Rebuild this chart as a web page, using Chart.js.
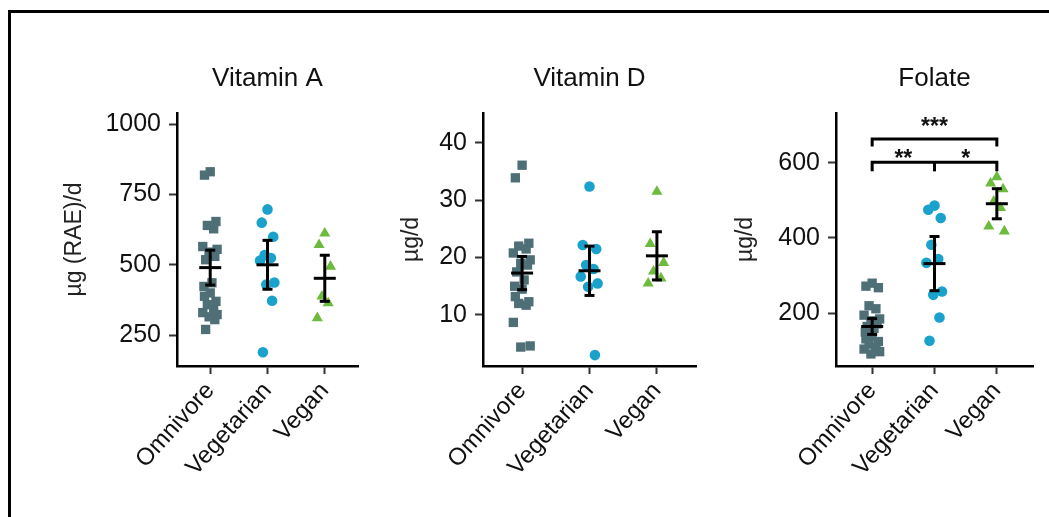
<!DOCTYPE html>
<html><head><meta charset="utf-8">
<script src="https://cdn.jsdelivr.net/npm/chart.js@4.4.1/dist/chart.umd.min.js"></script>
<style>
html,body{margin:0;padding:0;background:#fff;width:1049px;height:517px;overflow:hidden;position:relative;}
#frame{position:absolute;left:8px;top:10px;width:1100px;height:600px;border-top:3px solid #000;border-left:3px solid #000;}
canvas{position:absolute;top:0;}
</style></head><body>
<div id="frame"></div>
<canvas id="cA" width="380" height="517" style="left:0px;width:380px;height:517px"></canvas>
<canvas id="cB" width="330" height="517" style="left:380px;width:330px;height:517px"></canvas>
<canvas id="cC" width="339" height="517" style="left:710px;width:339px;height:517px"></canvas>
<script>
// ---------- data ----------
const groups = ['Omnivore', 'Vegetarian', 'Vegan'];
const titles = ['Vitamin A', 'Vitamin D', 'Folate'];
const yTitles = ['µg (RAE)/d', 'µg/d', 'µg/d'];

const vitA_omnivore = [831, 819, 654, 640, 628, 565, 555, 545, 530, 518, 436, 423, 400, 388, 370, 358, 340, 330, 323, 315, 305, 270];
const vitA_vegetarian = [697, 650, 600, 535, 524, 515, 437, 430, 372, 189];
const vitA_vegan = [612, 571, 494, 388, 364, 311];
const vitA_mean = [490, 500, 452];
const vitA_sem = [62, 87, 82];
const vitA_ticks = [250, 500, 750, 1000];

const vitD_omnivore = [36.1, 33.9, 22.5, 22.0, 21.5, 20.8, 19.6, 19.0, 18.7, 17.5, 16.1, 15.0, 14.5, 13.2, 12.3, 12.0, 11.7, 8.7, 4.6, 4.4];
const vitD_vegetarian = [32.4, 22.2, 21.5, 18.7, 18.0, 16.7, 15.5, 14.9, 3.0];
const vitD_vegan = [31.5, 22.4, 19.1, 17.6, 16.4, 15.5];
const vitD_mean = [17.3, 17.7, 20.3];
const vitD_sem = [2.9, 4.3, 4.2];
const vitD_ticks = [10, 20, 30, 40];

const folate_omnivore = [280, 272, 268, 220, 212, 195, 185, 180, 172, 165, 160, 150, 140, 132, 125, 118, 110, 105, 98, 92];
const folate_vegetarian = [486, 475, 453, 382, 344, 334, 258, 249, 189, 127];
const folate_vegan = [562, 545, 530, 497, 480, 431, 418];
const folate_mean = [165, 332, 491];
const folate_sem = [21, 72, 40];
const folate_ticks = [200, 400, 600];

// significance brackets (Folate): group indices and y values
const folate_brackets = [
  {from: 0, to: 2, y: 663, drop: 643, mids: []},
  {from: 0, to: 2, y: 601, drop: 577, mids: [1]}
];
const folate_stars = [
  {text: '***', x: 1.0, y: 711},
  {text: '**', x: 0.5, y: 627},
  {text: '*', x: 1.5, y: 627}
];

// ---------- style ----------
const FONT = '"Liberation Sans", Arial, Helvetica, sans-serif';
const COLORS = ['#4f6f77', '#1aa2cc', '#6cba3e'];
const STYLES = ['rect', 'circle', 'triangle'];
const RADII = [6.6, 5.3, 6.4];
const JIT = [0, -0.1, 0.1, -0.05, 0.06, -0.13, 0.12, -0.02, 0.08, -0.08, 0.03, -0.11];

const panels = [
  {id: 'cA', left: 177, right: 358, ylabX: 75, min: 140, max: 1040,
   series: [vitA_omnivore, vitA_vegetarian, vitA_vegan], mean: vitA_mean, sem: vitA_sem, ticks: vitA_ticks},
  {id: 'cB', left: 103, right: 317, ylabX: 32, min: 1.1, max: 45.2,
   series: [vitD_omnivore, vitD_vegetarian, vitD_vegan], mean: vitD_mean, sem: vitD_sem, ticks: vitD_ticks},
  {id: 'cC', left: 126, right: 323, ylabX: 36, min: 60, max: 732,
   series: [folate_omnivore, folate_vegetarian, folate_vegan], mean: folate_mean, sem: folate_sem, ticks: folate_ticks,
   brackets: folate_brackets, stars: folate_stars}
];

const TOP = 113, BOTTOM = 366, H = 517;

function build(p, idx) {
  const datasets = [];
  p.mean.forEach((m, g) => {
    datasets.push({type: 'line', data: [{x: g, y: m - p.sem[g]}, {x: g, y: m + p.sem[g]}],
      borderColor: '#000', borderWidth: 3, pointStyle: 'line', pointRadius: 5, pointBorderWidth: 3,
      pointBorderColor: '#000', fill: false, clip: false});
    datasets.push({type: 'scatter', data: [{x: g, y: m}], pointStyle: 'line', pointRadius: 11,
      pointBorderWidth: 3, pointBorderColor: '#000', clip: false});
  });
  (p.brackets || []).forEach(b => {
    datasets.push({type: 'line', data: [{x: b.from, y: b.drop}, {x: b.from, y: b.y}, {x: b.to, y: b.y}, {x: b.to, y: b.drop}],
      borderColor: '#000', borderWidth: 3, pointRadius: 0, fill: false, clip: false, borderCapStyle: 'butt'});
    b.mids.forEach(mx => {
      datasets.push({type: 'line', data: [{x: mx, y: b.drop}, {x: mx, y: b.y}],
        borderColor: '#000', borderWidth: 3, pointRadius: 0, fill: false, clip: false});
    });
  });
  p.series.forEach((vals, g) => {
    datasets.push({type: 'scatter',
      data: vals.map((v, i) => ({x: g + JIT[i % JIT.length], y: v})),
      pointStyle: STYLES[g], pointRadius: RADII[g], backgroundColor: COLORS[g], borderColor: COLORS[g],
      pointBorderWidth: 0, clip: false});
  });

  const deco = {
    id: 'deco' + idx,
    afterDraw(chart) {
      const ctx = chart.ctx, a = chart.chartArea;
      ctx.save();
      ctx.fillStyle = '#111';
      ctx.font = '26px ' + FONT;
      ctx.textAlign = 'center';
      ctx.textBaseline = 'middle';
      ctx.fillText(titles[idx], (a.left + a.right) / 2, 79);
      if (p.stars) {
        const xs = chart.scales.x, ys = chart.scales.y;
        ctx.font = 'bold 23px ' + FONT;
        ctx.textBaseline = 'alphabetic';
        p.stars.forEach(s => {
          ctx.fillText(s.text, xs.getPixelForValue(s.x), ys.getPixelForValue(s.y) + 0.57 * 23);
        });
      }
      ctx.restore();
    }
  };

  new Chart(document.getElementById(p.id), {
    data: {datasets},
    options: {
      responsive: false, animation: false, devicePixelRatio: 1,
      layout: {padding: {top: TOP, right: document.getElementById(p.id).width - p.right, left: 0, bottom: 0}},
      plugins: {legend: {display: false}, tooltip: {enabled: false}},
      scales: {
        x: {type: 'linear', min: -0.58, max: 2.58,
          afterBuildTicks: s => { s.ticks = groups.map((_, i) => ({value: i})); },
          afterFit: s => { s.height = H - BOTTOM; },
          ticks: {callback: v => groups[v], minRotation: 48, maxRotation: 48, autoSkip: false,
            font: {family: FONT, size: 24}, color: '#111', padding: 3},
          grid: {drawOnChartArea: false, drawTicks: true, tickLength: 8, tickColor: '#333', tickWidth: 2},
          border: {display: true, color: '#000', width: 2.5}},
        y: {type: 'linear', min: p.min, max: p.max,
          afterBuildTicks: s => { s.ticks = p.ticks.map(v => ({value: v})); },
          afterFit: s => { s.width = p.left; },
          ticks: {callback: v => String(v), font: {family: FONT, size: 25}, color: '#111', padding: 8},
          grid: {drawOnChartArea: false, drawTicks: true, tickLength: 8, tickColor: '#333', tickWidth: 2},
          border: {display: true, color: '#000', width: 2.5},
          title: {display: true, text: yTitles[idx], font: {family: FONT, size: 23}, color: '#222',
            padding: {top: p.ylabX - 13.8, bottom: 0}}}
      }
    },
    plugins: [deco]
  });
}
panels.forEach(build);
</script>
</body></html>
